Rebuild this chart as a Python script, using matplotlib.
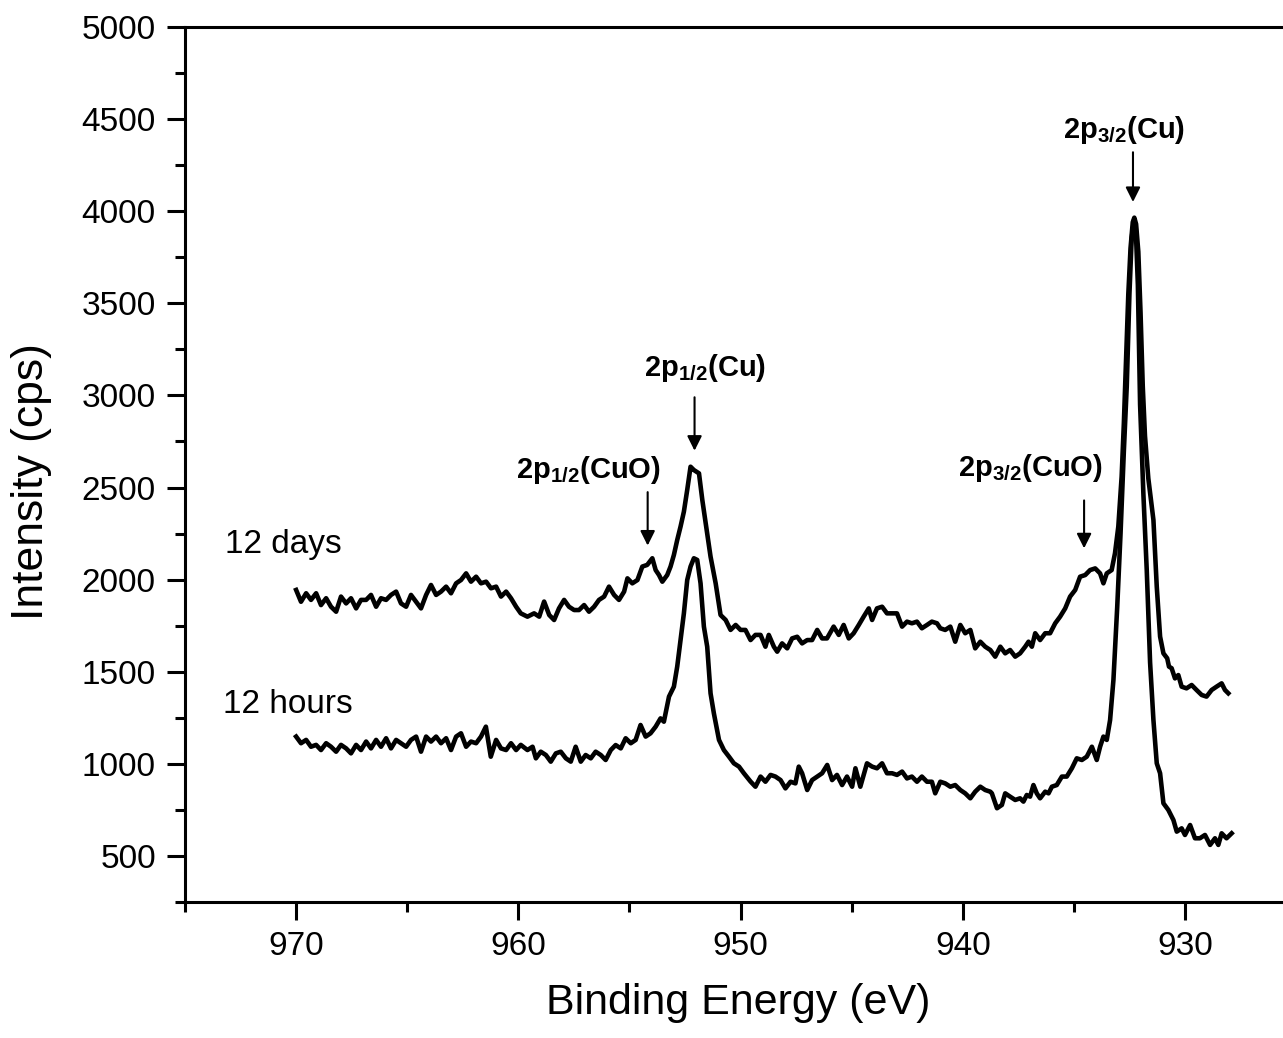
import matplotlib
matplotlib.use("Agg")
import matplotlib.pyplot as plt
from matplotlib.ticker import MultipleLocator

plt.rcParams['font.family'] = ['Liberation Sans', 'DejaVu Sans']
plt.rcParams['mathtext.fontset'] = 'custom'
plt.rcParams['mathtext.rm'] = 'Liberation Sans'
plt.rcParams['mathtext.bf'] = 'Liberation Sans:bold'

# 12 days spectrum (binding energy in eV, intensity in cps)
energy_days = [
    970.00, 969.78, 969.55, 969.33, 969.10, 968.88, 968.65, 968.43, 968.20, 967.98,
    967.75, 967.53, 967.30, 967.08, 966.85, 966.63, 966.40, 966.18, 965.95, 965.73,
    965.50, 965.28, 965.05, 964.83, 964.60, 964.38, 964.15, 963.93, 963.70, 963.48,
    963.25, 963.03, 962.80, 962.58, 962.35, 962.13, 961.90, 961.68, 961.45, 961.23,
    961.00, 960.78, 960.55, 960.33, 960.10,
    959.89, 959.59, 959.29, 959.06, 958.84, 958.61, 958.39, 958.17, 957.94, 957.72,
    957.49, 957.27, 957.04, 956.82, 956.59, 956.37, 956.14, 955.92, 955.69, 955.47,
    955.24, 955.09, 954.87, 954.64, 954.42, 954.20, 953.97, 953.82, 953.67, 953.52,
    953.30, 953.15, 953.00, 952.85, 952.70, 952.55, 952.40, 952.25, 952.10, 951.87,
    951.72, 951.57, 951.35, 951.12, 950.90, 950.67, 950.45, 950.22, 950.00, 949.78,
    949.55, 949.33,
    949.10, 948.88, 948.73, 948.50, 948.35, 948.13, 947.90, 947.68, 947.45, 947.23,
    947.00, 946.78, 946.55, 946.33, 946.11, 945.81, 945.58, 945.36, 945.13, 944.91,
    944.68, 944.46, 944.23, 944.08, 943.86, 943.63, 943.41, 943.18, 942.96, 942.73,
    942.51, 942.29, 942.06, 941.84, 941.61, 941.39, 941.16,
    941.01, 940.79, 940.56, 940.34, 940.11, 939.89, 939.66, 939.44, 939.21, 938.99,
    938.76, 938.54, 938.31, 938.09, 937.87, 937.64, 937.42, 937.19, 937.04, 936.89,
    936.74, 936.52, 936.29, 936.07, 935.84, 935.62, 935.39, 935.17, 934.94, 934.72,
    934.49, 934.27, 934.04, 933.82, 933.67, 933.52, 933.30, 933.15, 933.00,
    932.85, 932.75, 932.65, 932.55, 932.45, 932.35, 932.28, 932.20, 932.10, 932.00,
    931.90, 931.80, 931.65, 931.42, 931.27, 931.12, 930.97, 930.80, 930.72, 930.60,
    930.45, 930.30, 930.15, 929.93, 929.70, 929.48, 929.25, 929.03, 928.80, 928.58,
    928.35, 928.20, 928.05,
]
intensity_days = [
    1944, 1880, 1926, 1890, 1926, 1862, 1899, 1853, 1826, 1908,
    1871, 1899, 1844, 1890, 1890, 1917, 1853, 1899, 1890, 1917,
    1935, 1871, 1853, 1917, 1880, 1844, 1917, 1971, 1917, 1935,
    1962, 1926, 1980, 1998, 2034, 1989, 2016, 1980, 1989, 1953,
    1962, 1908, 1935, 1899, 1853,
    1817, 1799, 1817, 1799, 1881, 1808, 1781, 1844, 1890, 1853,
    1835, 1835, 1862, 1826, 1853, 1890, 1908, 1962, 1917, 1890,
    1935, 2007, 1980, 1998, 2071, 2080, 2116, 2052, 2025, 1989,
    2025, 2071, 2134, 2215, 2288, 2369, 2487, 2613, 2595, 2577,
    2432, 2306, 2125, 1980, 1808, 1781, 1727, 1754, 1727, 1727,
    1672, 1700,
    1700, 1636, 1700, 1636, 1609, 1654, 1627, 1681, 1690, 1654,
    1672, 1672, 1727, 1681, 1681, 1745, 1700, 1754, 1681, 1709,
    1754, 1799, 1844, 1781, 1844, 1853, 1817, 1817, 1817, 1745,
    1772, 1763, 1772, 1736, 1754, 1772, 1763,
    1736, 1727, 1745, 1663, 1754, 1709, 1727, 1627, 1663, 1636,
    1618, 1582, 1636, 1600, 1618, 1582, 1600, 1636, 1663, 1636,
    1709, 1672, 1709, 1709, 1763, 1799, 1844, 1908, 1944, 2016,
    2025, 2052, 2061, 2034, 1980, 2034, 2052, 2143, 2288,
    2560, 2850, 3200, 3550, 3800, 3940, 3965, 3930, 3780, 3450,
    3050, 2780, 2550, 2324, 1962, 1691, 1600, 1573, 1528, 1519,
    1464, 1482, 1419, 1410, 1428, 1401, 1374, 1365, 1401, 1419,
    1437, 1401, 1383,
]

# 12 hours spectrum
energy_hours = [
    970.00, 969.78, 969.55, 969.33, 969.10, 968.88, 968.65, 968.43, 968.20, 967.98,
    967.75, 967.53, 967.30, 967.08, 966.85, 966.63, 966.40, 966.18, 965.95, 965.73,
    965.50, 965.28, 965.05, 964.83, 964.60, 964.38, 964.15, 963.93, 963.70, 963.48,
    963.25, 963.03, 962.80, 962.58, 962.35, 962.13, 961.90, 961.68, 961.46, 961.24,
    961.00, 960.78, 960.55, 960.33, 960.10, 959.89,
    959.59, 959.36, 959.21, 958.99, 958.76, 958.54, 958.31, 958.09, 957.86, 957.64,
    957.42, 957.19, 956.97, 956.74, 956.52, 956.29, 956.07, 955.84, 955.62, 955.39,
    955.17, 954.94, 954.72, 954.50, 954.27, 954.05, 953.82, 953.60, 953.45, 953.22,
    953.00, 952.85, 952.70, 952.55, 952.40, 952.25, 952.10, 951.95, 951.80, 951.65,
    951.50, 951.35, 951.20, 950.97, 950.75, 950.52, 950.30, 950.07, 949.85, 949.55,
    949.33, 949.10, 948.88, 948.65, 948.43, 948.20, 947.98, 947.75, 947.53, 947.38,
    947.23, 947.00, 946.78, 946.55, 946.33, 946.10, 945.88, 945.66, 945.43, 945.21,
    944.98, 944.83, 944.61, 944.31, 944.08, 943.86, 943.63, 943.41, 943.18, 942.96,
    942.73, 942.51, 942.29, 942.06, 941.84, 941.61, 941.39, 941.24, 941.01, 940.79,
    940.56, 940.34, 940.11, 939.89, 939.66, 939.44, 939.21, 938.99, 938.76,
    938.69, 938.46, 938.24, 938.09, 937.87, 937.64, 937.42, 937.27, 937.12, 936.97,
    936.82, 936.67, 936.52, 936.29, 936.14, 935.99, 935.77, 935.54, 935.32, 935.09,
    934.87, 934.64, 934.42, 934.19, 933.97, 933.82, 933.67, 933.52, 933.37, 933.22,
    933.05, 932.90, 932.75, 932.62, 932.50, 932.40, 932.30, 932.22, 932.12, 932.02,
    931.87, 931.72, 931.57, 931.42, 931.27, 931.12, 930.97, 930.75, 930.52, 930.37,
    930.15, 930.00, 929.77, 929.55, 929.33, 929.10, 928.87, 928.65, 928.50, 928.35,
    928.13, 927.90,
]
intensity_hours = [
    1148, 1112, 1130, 1093, 1103, 1075, 1112, 1093, 1066, 1103,
    1084, 1057, 1103, 1075, 1121, 1084, 1130, 1093, 1139, 1084,
    1130, 1112, 1093, 1130, 1148, 1066, 1148, 1121, 1148, 1112,
    1139, 1075, 1148, 1166, 1093, 1121, 1112, 1148, 1202, 1039,
    1130, 1084, 1075, 1112, 1075, 1103,
    1075, 1093, 1030, 1066, 1048, 1012, 1057, 1066, 1030, 1012,
    1093, 1012, 1048, 1030, 1066, 1048, 1021, 1075, 1102, 1084,
    1139, 1112, 1130, 1211, 1148, 1166, 1202, 1247, 1229, 1365,
    1419, 1528, 1672, 1817, 1998, 2071, 2116, 2107, 1980, 1745,
    1636, 1383, 1274, 1130, 1075, 1039, 1003, 985, 949, 904,
    876, 931, 903, 940, 931, 912, 867, 903, 894, 985,
    949, 858, 912, 931, 949, 994, 912, 940, 885, 931,
    876, 976, 876, 1003, 985, 976, 1003, 949, 949, 940,
    958, 921, 931, 903, 931, 903, 903, 840, 903, 894,
    876, 885, 858, 840, 813, 849, 876, 858, 849,
    840, 759, 777, 840, 822, 804, 813, 795, 831, 822,
    885, 840, 813, 849, 840, 876, 885, 931, 931, 976,
    1030, 1021, 1039, 1093, 1021, 1093, 1148, 1130, 1238, 1455,
    1850, 2250, 2700, 3050, 3550, 3850, 3950, 3920, 3600, 2950,
    2460, 2050, 1550, 1238, 1003, 949, 786, 750, 695, 632,
    650, 614, 668, 596, 596, 614, 560, 596, 560, 623,
    596, 623,
]

sample_labels = ['12 days', '12 hours']
sample_label_pos = [(973.2, 2190), (973.3, 1320)]

peak_labels = [r'$\bf{2p_{3/2}(Cu)}$', r'$\bf{2p_{1/2}(Cu)}$',
               r'$\bf{2p_{1/2}(CuO)}$', r'$\bf{2p_{3/2}(CuO)}$']
peak_label_pos = [(932.75, 4440), (951.6, 3150), (956.85, 2595), (936.95, 2605)]
arrow_x = [932.34, 952.07, 954.18, 934.54]
arrow_top = [4320, 2990, 2475, 2430]
arrow_tip = [4050, 2700, 2185, 2170]

fig = plt.figure(figsize=(12.83, 10.38), dpi=100)
ax = fig.add_axes([0.1442, 0.131, 0.866, 0.843])

ax.plot(energy_days, intensity_days, color='black', lw=3.3, solid_joinstyle='round')
ax.plot(energy_hours, intensity_hours, color='black', lw=3.3, solid_joinstyle='round')

for label, (x, y) in zip(sample_labels, sample_label_pos):
    ax.text(x, y, label, fontsize=24, ha='left', va='center')

for label, (x, y) in zip(peak_labels, peak_label_pos):
    ax.text(x, y, label, fontsize=21, ha='center', va='center')

for x, y0, y1 in zip(arrow_x, arrow_top, arrow_tip):
    ax.annotate('', xy=(x, y1), xytext=(x, y0),
                arrowprops=dict(arrowstyle='-|>', color='black', lw=1.5,
                                mutation_scale=22, shrinkA=0, shrinkB=0))

ax.set_xlim(975, 925)
ax.set_ylim(250, 5000)
ax.xaxis.set_major_locator(MultipleLocator(10))
ax.xaxis.set_minor_locator(MultipleLocator(5))
ax.yaxis.set_major_locator(MultipleLocator(500))
ax.yaxis.set_minor_locator(MultipleLocator(250))

ax.tick_params(which='both', direction='out', width=2.2, labelsize=24, pad=8,
               top=False, right=False)
ax.tick_params(which='major', length=13)
ax.tick_params(which='minor', length=7)
for side in ['left', 'bottom', 'top', 'right']:
    ax.spines[side].set_linewidth(2.2)

ax.set_xlabel('Binding Energy (eV)', fontsize=31)
ax.set_ylabel('Intensity (cps)', fontsize=32)
ax.xaxis.set_label_coords(0.498, -0.093)
ax.yaxis.set_label_coords(-0.12, 0.48)

fig.savefig('out.png', dpi=100)
